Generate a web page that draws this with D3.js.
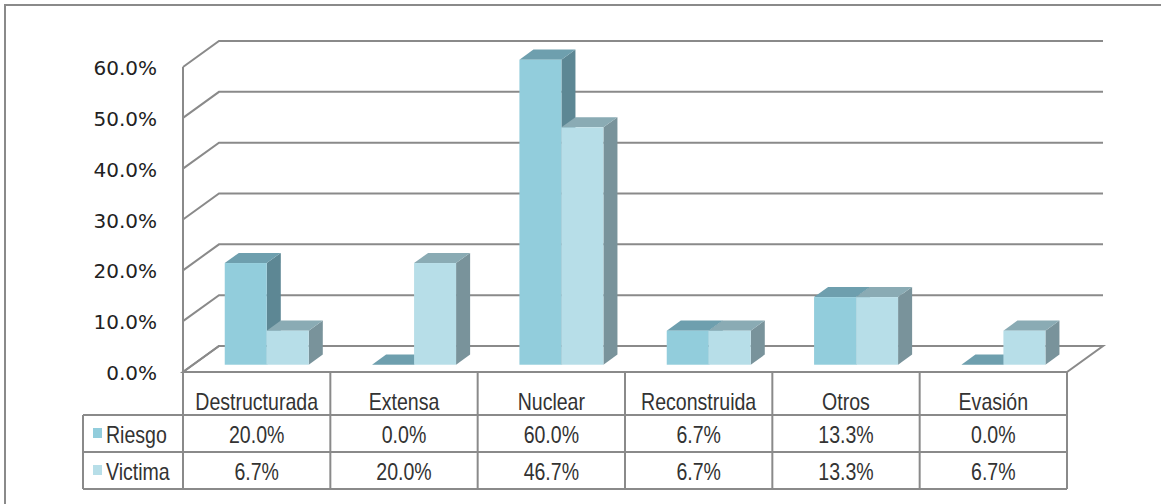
<!DOCTYPE html>
<html>
<head>
<meta charset="utf-8">
<script src="https://cdn.jsdelivr.net/npm/d3@7"></script>
<style>
  body { margin: 0; background: #fff; }
  svg { display: block; }
</style>
</head>
<body>
<div id="chart"></div>
<script>
// chart values
const categories = ["Destructurada", "Extensa", "Nuclear", "Reconstruida", "Otros", "Evasión"];
const seriesNames = ["Riesgo", "Victima"];
const riesgo = [20.0, 0.0, 60.0, 6.7, 13.3, 0.0];
const victima = [6.7, 20.0, 46.7, 6.7, 13.3, 6.7];
const yTicks = [0, 10, 20, 30, 40, 50, 60];

const width = 1161, height = 504;
const depthX = 36, depthY = 26;       // 3d depth of the walls
const barZ0 = 0.28, barZ1 = 0.67;     // bar front / back depth (fraction)

const colors = {
  Riesgo: { front: "#92cddc", top: "#6e9fae", side: "#5d8794" },
  Victima: { front: "#b7dee8", top: "#8aabb4", side: "#79939b" }
};
const gridColor = "#8a8a8a";

const svg = d3.select("#chart")
  .append("svg")
  .attr("width", width)
  .attr("height", height);

// outer frame (right/bottom fall outside the picture)
svg.append("rect")
  .attr("x", 5).attr("y", 5)
  .attr("width", 1200).attr("height", 520)
  .attr("fill", "none")
  .attr("stroke", gridColor)
  .attr("stroke-width", 2);

const x = d3.scaleBand()
  .domain(categories)
  .range([183, 1067]);

const y = d3.scaleLinear()
  .domain([0, 60])
  .range([372, 67]);

const inner = d3.scaleBand()
  .domain(seriesNames)
  .range([0, 84]);

// project a point at depth z (0 = front, 1 = back wall)
const proj = (px, py, z) => [px + z * depthX, py - z * depthY];
const poly = (pts) => "M" + pts.map(p => p.join(",")).join("L") + "Z";

const x0 = x.range()[0], x1 = x.range()[1];

// floor
svg.append("path")
  .attr("d", poly([proj(x0, y(0), 0), proj(x1, y(0), 0), proj(x1, y(0), 1), proj(x0, y(0), 1)]))
  .attr("fill", "#fff")
  .attr("stroke", gridColor)
  .attr("stroke-width", 2);

// gridlines: side wall slant + back wall line
const grid = svg.append("g")
  .attr("fill", "none")
  .attr("stroke", gridColor)
  .attr("stroke-width", 2);

yTicks.forEach(t => {
  const a = proj(x0, y(t), 0), b = proj(x0, y(t), 1), c = proj(x1, y(t), 1);
  grid.append("path").attr("d", "M" + a + "L" + b + "L" + c);
});

// front vertical axis
grid.append("line")
  .attr("x1", x0).attr("x2", x0)
  .attr("y1", y(60)).attr("y2", y(0));

// y labels
svg.append("g")
  .attr("transform", `translate(${x0 - 26},0)`)
  .call(d3.axisLeft(y).tickValues(yTicks).tickSize(0).tickPadding(0)
    .tickFormat(d => d3.format(".1f")(d) + "%"))
  .call(g => g.select(".domain").remove())
  .selectAll("text")
  .attr("font-family", "DejaVu Sans, Verdana, sans-serif")
  .attr("font-size", "20px")
  .attr("fill", "#222")
  .attr("dy", "0.38em");

// bars
const data = [];
categories.forEach((c, i) => {
  data.push({ cat: c, series: "Riesgo", value: riesgo[i] });
  data.push({ cat: c, series: "Victima", value: victima[i] });
});

const offset = (x.bandwidth() - 84) / 2;
const bars = svg.append("g");

data.forEach(d => {
  const left = x(d.cat) + offset + inner(d.series);
  const right = left + inner.bandwidth();
  const top = y(d.value), base = y(0);
  const col = colors[d.series];
  const g = bars.append("g");

  if (d.value > 0) {
    g.append("path")
      .attr("d", poly([proj(right, base, barZ0), proj(right, top, barZ0), proj(right, top, barZ1), proj(right, base, barZ1)]))
      .attr("fill", col.side);
  }
  g.append("path")
    .attr("d", poly([proj(left, top, barZ0), proj(right, top, barZ0), proj(right, top, barZ1), proj(left, top, barZ1)]))
    .attr("fill", col.top);
  if (d.value > 0) {
    const p = proj(left, top, barZ0);
    g.append("rect")
      .attr("x", p[0]).attr("y", p[1])
      .attr("width", right - left)
      .attr("height", base - top)
      .attr("fill", col.front);
  }
});

// data table
const rowTop = y(0), headerBottom = 415, row1 = 452, row2 = 489;
const legendLeft = 83;
const table = svg.append("g")
  .attr("fill", "none")
  .attr("stroke", gridColor)
  .attr("stroke-width", 2);

table.append("path")
  .attr("d", `M${x0},${rowTop}V${row2}M${x1},${rowTop}V${row2}` +
    `M${legendLeft},${headerBottom}H${x1}M${legendLeft},${row1}H${x1}M${legendLeft},${row2}H${x1}` +
    `M${legendLeft},${headerBottom}V${row2}`);

categories.forEach((c, i) => {
  if (i > 0) {
    table.append("line")
      .attr("x1", x(c)).attr("x2", x(c))
      .attr("y1", rowTop).attr("y2", row2);
  }
});

const fmt = d => d3.format(".1f")(d) + "%";
const cellText = (tx, ty, str, anchor) => {
  svg.append("text")
    .attr("transform", `translate(${tx},${ty}) scale(0.85,1)`)
    .attr("text-anchor", anchor)
    .attr("font-family", "Liberation Sans, Arial, sans-serif")
    .attr("font-size", "23px")
    .attr("fill", "#333")
    .text(str);
};

categories.forEach((c, i) => {
  const cx = x(c) + x.bandwidth() / 2;
  cellText(cx, 410, c, "middle");
  cellText(cx, 443, fmt(riesgo[i]), "middle");
  cellText(cx, 480, fmt(victima[i]), "middle");
});

// legend keys in the row headers
[[seriesNames[0], 443, 428], [seriesNames[1], 480, 465]].forEach(([name, ty, ky]) => {
  svg.append("rect")
    .attr("x", 93).attr("y", ky)
    .attr("width", 9).attr("height", 10)
    .attr("fill", colors[name].front);
  cellText(106, ty, name, "start");
});
</script>
</body>
</html>
